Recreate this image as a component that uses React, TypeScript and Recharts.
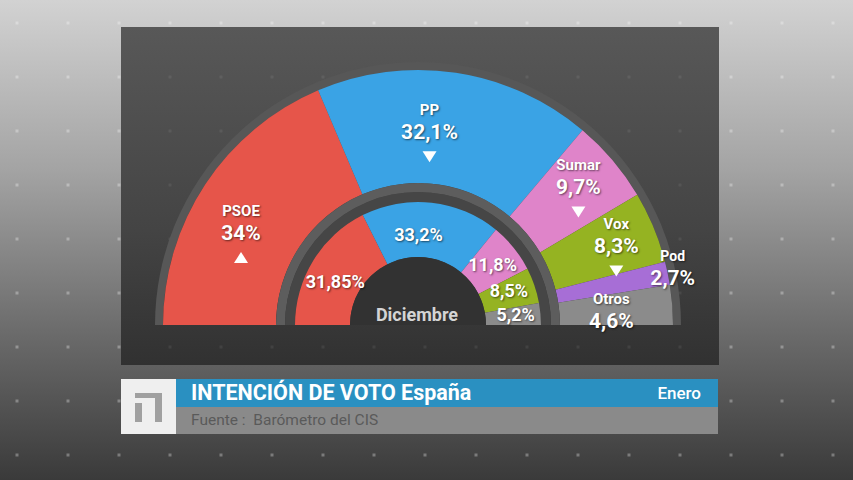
import React from "react";
import { PieChart, Pie, Cell } from "recharts";

const parties = ["PSOE", "PP", "Sumar", "Vox", "Pod", "Otros"];
const enero = [34, 32.1, 9.7, 8.3, 2.7, 4.6];
const trend = ["up", "down", "down", "down", "", ""];

const innerParties = ["PSOE", "PP", "Sumar", "Vox", "Otros"];
const diciembre = [31.85, 33.2, 11.8, 8.5, 5.2];

const colors: Record<string, string> = {
  PSOE: "#e6554a",
  PP: "#3aa3e5",
  Sumar: "#df84c9",
  Vox: "#95b322",
  Pod: "#a76ed6",
  Otros: "#8b8b8b",
};

const outerData = parties.map((name, i) => ({ name, value: enero[i], trend: trend[i] }));
const innerData = innerParties.map((name, i) => ({ name, value: diciembre[i] }));

const RADIAN = Math.PI / 180;
const FONT = "Roboto, 'DejaVu Sans', sans-serif";
const SHADOW = "1px 1px 2px rgba(0,0,0,0.55)";

// hand tweaks so labels sit where the original put them
const outerShift = [
  [-6, 21],
  [-19, 10],
  [4, -5],
  [9, 0],
  [54, -5],
  [-11, 12],
];
const innerShift = [
  [-1, 7],
  [-10, 5],
  [0, 0],
  [0, -4],
  [2, -2],
];

const fmt = (v: number) => String(v).replace(".", ",") + "%";

function OuterLabel(props: any) {
  const { cx, cy, midAngle, index, payload } = props;
  const r = 205;
  const s = outerShift[index];
  const x = cx + r * Math.cos(-midAngle * RADIAN) + s[0];
  const y = cy + r * Math.sin(-midAngle * RADIAN) + s[1];
  const name = payload.name;
  const dir = payload.trend;
  return (
    <g style={{ fontFamily: FONT, fontWeight: 700 }}>
      <text x={x} y={y - 22} textAnchor="middle" dominantBaseline="central" fill="#fff"
        fontSize={name === "Pod" ? 14 : 15} style={{ textShadow: SHADOW }}>
        {name}
      </text>
      <text x={x} y={y} textAnchor="middle" dominantBaseline="central" fill="#fff"
        fontSize={21} style={{ textShadow: SHADOW }}>
        {fmt(payload.value)}
      </text>
      {dir === "up" && (
        <polygon points={`${x - 7},${y + 30} ${x + 7},${y + 30} ${x},${y + 19}`} fill="#fff" />
      )}
      {dir === "down" && (
        <polygon points={`${x - 7},${y + 19} ${x + 7},${y + 19} ${x},${y + 30}`} fill="#fff" />
      )}
    </g>
  );
}

function InnerLabel(props: any) {
  const { cx, cy, midAngle, index, payload } = props;
  const r = 96;
  const s = innerShift[index];
  const x = cx + r * Math.cos(-midAngle * RADIAN) + s[0];
  const y = cy + r * Math.sin(-midAngle * RADIAN) + s[1];
  return (
    <text x={x} y={y} textAnchor="middle" dominantBaseline="central" fill="#fff"
      fontSize={18} fontWeight={700} style={{ fontFamily: FONT, textShadow: SHADOW }}>
      {fmt(payload.value)}
    </text>
  );
}

function HoleLabel(props: any) {
  const { cx, cy } = props;
  return (
    <text x={cx - 1} y={cy - 11} textAnchor="middle" dominantBaseline="central" fill="#d4d4d4"
      fontSize={18} fontWeight={700} style={{ fontFamily: FONT }}>
      Diciembre
    </text>
  );
}

// dot grid, drawn as one small square per cell
const dotCols = Array.from({ length: 17 }, (_, i) => i);
const dotRows = Array.from({ length: 9 }, (_, i) => i);

function Backdrop() {
  return (
    <svg width={853} height={480} style={{ position: "absolute", left: 0, top: 0, display: "block" }}>
      <defs>
        <linearGradient id="bgGrad" x1="0" y1="0" x2="0" y2="480" gradientUnits="userSpaceOnUse">
          <stop offset="0" stopColor="#d2d2d2" />
          <stop offset="0.35" stopColor="#a4a4a4" />
          <stop offset="0.7" stopColor="#6a6a6a" />
          <stop offset="1" stopColor="#3a3a3a" />
        </linearGradient>
        <linearGradient id="panelGrad" x1="0" y1="27" x2="0" y2="365" gradientUnits="userSpaceOnUse">
          <stop offset="0" stopColor="#585858" />
          <stop offset="0.6" stopColor="#444444" />
          <stop offset="1" stopColor="#313131" />
        </linearGradient>
      </defs>
      <rect x={0} y={0} width={853} height={480} fill="url(#bgGrad)" />
      {dotRows.map((r) =>
        dotCols.map((c) => (
          <rect key={`o${r}-${c}`} x={15.5 + c * 51} y={21.5 + r * 54} width={3} height={3}
            fill="#ffffff" fillOpacity={0.3} />
        ))
      )}
      <rect x={121} y={27} width={598} height={338} fill="url(#panelGrad)" />
      {dotRows.map((r) =>
        dotCols.map((c) => {
          const x = 15.5 + c * 51;
          const y = 21.5 + r * 54;
          if (x < 121 || x > 716 || y < 27 || y > 362) return null;
          return <rect key={`i${r}-${c}`} x={x} y={y} width={3} height={3} fill="#ffffff" fillOpacity={0.07} />;
        })
      )}
    </svg>
  );
}

export default function App() {
  const ring = [{ value: 1 }];
  return (
    <div
      style={{
        position: "fixed",
        left: 0,
        top: 0,
        width: 853,
        height: 480,
        overflow: "hidden",
        fontFamily: FONT,
        background: "#a4a4a4",
      }}
    >
      <Backdrop />

      <div style={{ position: "absolute", left: 0, top: 0 }}>
        <PieChart width={853} height={480} margin={{ top: 0, right: 0, bottom: 0, left: 0 }}>
          <Pie data={ring} dataKey="value" cx={418} cy={325} startAngle={180} endAngle={0}
            innerRadius={255} outerRadius={263} fill="#575757" stroke="none" isAnimationActive={false} />
          <Pie data={outerData} dataKey="value" cx={418} cy={325} startAngle={180} endAngle={0}
            innerRadius={142} outerRadius={255} stroke="none" isAnimationActive={false}
            label={OuterLabel} labelLine={false}>
            {outerData.map((d) => (
              <Cell key={d.name} fill={colors[d.name]} />
            ))}
          </Pie>
          <Pie data={ring} dataKey="value" cx={418} cy={325} startAngle={180} endAngle={0}
            innerRadius={133} outerRadius={142} fill="#5d5d5d" stroke="none" isAnimationActive={false} />
          <Pie data={ring} dataKey="value" cx={418} cy={325} startAngle={180} endAngle={0}
            innerRadius={123} outerRadius={133} fill="#464646" stroke="none" isAnimationActive={false} />
          <Pie data={innerData} dataKey="value" cx={418} cy={325} startAngle={180} endAngle={0}
            innerRadius={68} outerRadius={123} stroke="none" isAnimationActive={false}
            label={InnerLabel} labelLine={false}>
            {innerData.map((d) => (
              <Cell key={d.name} fill={colors[d.name]} />
            ))}
          </Pie>
          <Pie data={ring} dataKey="value" cx={418} cy={325} startAngle={180} endAngle={0}
            innerRadius={0} outerRadius={68} fill="#323232" stroke="none" isAnimationActive={false}
            label={HoleLabel} labelLine={false} />
        </PieChart>
      </div>

      {/* footer */}
      <div style={{ position: "absolute", left: 121, top: 379, width: 55, height: 55, background: "#efefef" }}>
        <div style={{ position: "absolute", left: 14, top: 14, width: 27, height: 5, background: "#a0a0a0" }} />
        <div style={{ position: "absolute", left: 34, top: 14, width: 7, height: 29, background: "#a0a0a0" }} />
        <div style={{ position: "absolute", left: 14, top: 24, width: 7, height: 19, background: "#a0a0a0" }} />
      </div>
      <div
        style={{
          position: "absolute",
          left: 176,
          top: 379,
          width: 542,
          height: 28,
          background: "#2a90c1",
          color: "#fff",
        }}
      >
        <div style={{ position: "absolute", left: 15, top: 0, lineHeight: "28px", fontSize: 21.5, fontWeight: 700 }}>
          INTENCIÓN DE VOTO España
        </div>
        <div style={{ position: "absolute", right: 17, top: 0, lineHeight: "28px", fontSize: 17, fontWeight: 500 }}>
          Enero
        </div>
      </div>
      <div
        style={{
          position: "absolute",
          left: 176,
          top: 407,
          width: 542,
          height: 27,
          background: "#8a8a8a",
          color: "#5a5a5a",
        }}
      >
        <div style={{ position: "absolute", left: 15, top: 0, lineHeight: "27px", fontSize: 15.5 }}>
          Fuente :&nbsp; Barómetro del CIS
        </div>
      </div>
    </div>
  );
}
